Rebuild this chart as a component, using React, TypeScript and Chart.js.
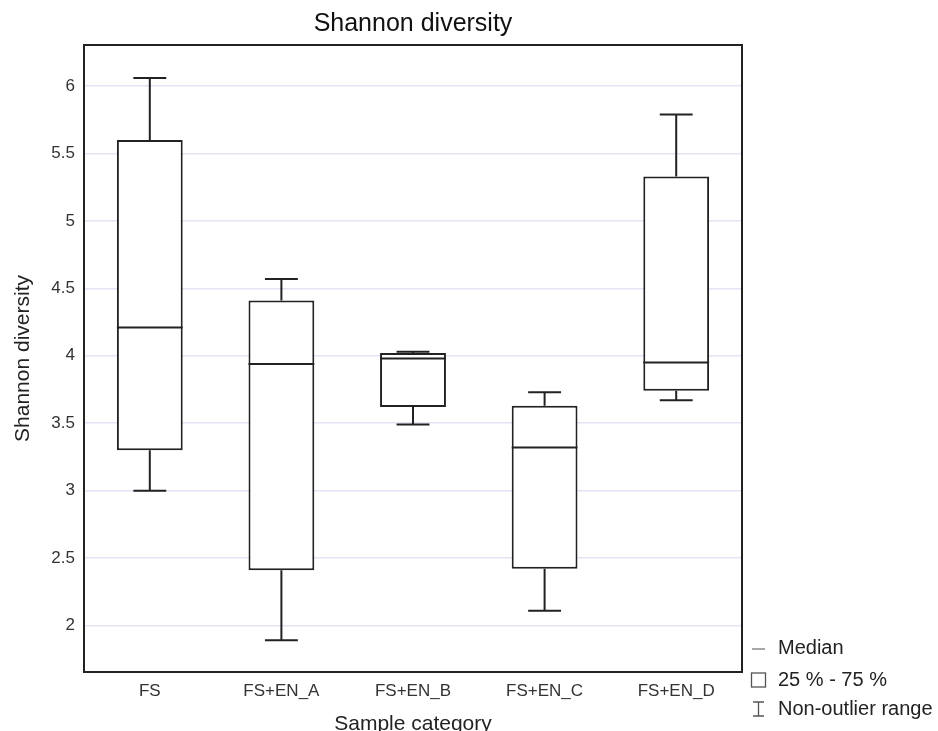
import React, { useEffect, useRef } from "react";
import { Chart, registerables } from "chart.js";

Chart.register(...registerables);

const categories = ["FS", "FS+EN_A", "FS+EN_B", "FS+EN_C", "FS+EN_D"];
const whiskerMin = [3.0, 1.89, 3.49, 2.11, 3.67];
const q1 = [3.3, 2.41, 3.62, 2.42, 3.74];
const median = [4.21, 3.94, 3.98, 3.32, 3.95];
const q3 = [5.6, 4.41, 4.02, 3.63, 5.33];
const whiskerMax = [6.06, 4.57, 4.03, 3.73, 5.79];
const yTicks = [2, 2.5, 3, 3.5, 4, 4.5, 5, 5.5, 6];
const legendLabels = ["Median", "25 % - 75 %", "Non-outlier range"];

const FONT = "'Liberation Sans', Arial, sans-serif";
const INK = "#222";

const boxPlugin = {
  id: "boxExtras",
  afterDatasetsDraw(chart: any) {
    const ctx = chart.ctx;
    const y = chart.scales.y;
    const meta = chart.getDatasetMeta(0);
    ctx.save();
    ctx.strokeStyle = INK;
    ctx.lineWidth = 2;
    meta.data.forEach((bar: any, i: number) => {
      const x = bar.x;
      const w = bar.width;
      const half = w / 2;
      const capHalf = w / 4;
      const yMed = y.getPixelForValue(median[i]);
      const yMin = y.getPixelForValue(whiskerMin[i]);
      const yMax = y.getPixelForValue(whiskerMax[i]);
      const yQ1 = y.getPixelForValue(q1[i]);
      const yQ3 = y.getPixelForValue(q3[i]);
      ctx.beginPath();
      ctx.moveTo(x - half, yMed);
      ctx.lineTo(x + half, yMed);
      ctx.moveTo(x, yQ3);
      ctx.lineTo(x, yMax);
      ctx.moveTo(x - capHalf, yMax);
      ctx.lineTo(x + capHalf, yMax);
      ctx.moveTo(x, yQ1);
      ctx.lineTo(x, yMin);
      ctx.moveTo(x - capHalf, yMin);
      ctx.lineTo(x + capHalf, yMin);
      ctx.stroke();
    });
    ctx.restore();
  },
  afterDraw(chart: any) {
    const ctx = chart.ctx;
    const a = chart.chartArea;
    ctx.save();
    ctx.strokeStyle = INK;
    ctx.lineWidth = 2;
    ctx.strokeRect(a.left, a.top, a.right - a.left, a.bottom - a.top);
    const ix = a.right + 9;
    const tx = a.right + 36;
    const rows = [a.bottom - 24, a.bottom + 8, a.bottom + 37];
    ctx.strokeStyle = "#777";
    ctx.lineWidth = 1.3;
    ctx.beginPath();
    ctx.moveTo(ix + 1, rows[0] + 1);
    ctx.lineTo(ix + 14, rows[0] + 1);
    ctx.stroke();
    ctx.strokeStyle = "#555";
    ctx.strokeRect(ix + 0.5, rows[1] - 7, 14, 14);
    ctx.beginPath();
    ctx.moveTo(ix + 7.5, rows[2] - 7);
    ctx.lineTo(ix + 7.5, rows[2] + 7);
    ctx.moveTo(ix + 2, rows[2] - 7);
    ctx.lineTo(ix + 13, rows[2] - 7);
    ctx.moveTo(ix + 2, rows[2] + 7);
    ctx.lineTo(ix + 13, rows[2] + 7);
    ctx.stroke();
    ctx.fillStyle = INK;
    ctx.font = `20px ${FONT}`;
    ctx.textAlign = "left";
    ctx.textBaseline = "middle";
    legendLabels.forEach((t, i) => ctx.fillText(t, tx, rows[i]));
    ctx.restore();
  },
};

export default function App() {
  const ref = useRef<HTMLCanvasElement>(null);
  useEffect(() => {
    document.documentElement.style.overflow = "hidden";
    if (!ref.current) return;
    const chart = new Chart(ref.current, {
      type: "bar",
      data: {
        labels: categories,
        datasets: [
          {
            data: categories.map((_, i) => [q1[i], q3[i]]) as any,
            backgroundColor: "#ffffff",
            borderColor: INK,
            borderWidth: 2,
            borderSkipped: false,
            barPercentage: 0.5,
            categoryPercentage: 1,
          },
        ],
      },
      options: {
        responsive: false,
        animation: false,
        layout: { padding: { left: 8, right: 196, top: 8, bottom: 0 } },
        plugins: {
          legend: { display: false },
          tooltip: { enabled: false },
          title: {
            display: true,
            text: "Shannon diversity",
            fullSize: false,
            color: "#111",
            font: { family: FONT, size: 25, weight: "normal" },
            padding: { top: 1, bottom: 6 },
          },
        },
        scales: {
          x: {
            grid: { display: false },
            border: { display: false },
            ticks: { color: "#333", font: { family: FONT, size: 17 }, padding: 1 },
            title: {
              display: true,
              text: "Sample category",
              color: INK,
              font: { family: FONT, size: 21 },
              padding: { top: 0, bottom: -6 },
            },
            afterFit: (s: any) => {
              s.height = 59;
            },
          },
          y: {
            min: 1.655,
            max: 6.305,
            grid: { color: "#e3e3f6", lineWidth: 1.5, drawTicks: false },
            border: { display: false },
            afterBuildTicks: (s: any) => {
              s.ticks = yTicks.map((v) => ({ value: v }));
            },
            ticks: {
              color: "#333",
              font: { family: FONT, size: 17 },
              padding: 9,
              callback: (v: any) => String(v),
            },
            title: {
              display: true,
              text: "Shannon diversity",
              color: INK,
              font: { family: FONT, size: 21 },
              padding: { top: 3, bottom: 0 },
            },
            afterFit: (s: any) => {
              s.width = 76;
            },
          },
        },
      },
      plugins: [boxPlugin],
    });
    return () => chart.destroy();
  }, []);
  return (
    <div style={{ position: "fixed", left: 0, top: 0, width: 938, height: 731 }}>
      <canvas ref={ref} width={938} height={731} style={{ display: "block" }} />
    </div>
  );
}
